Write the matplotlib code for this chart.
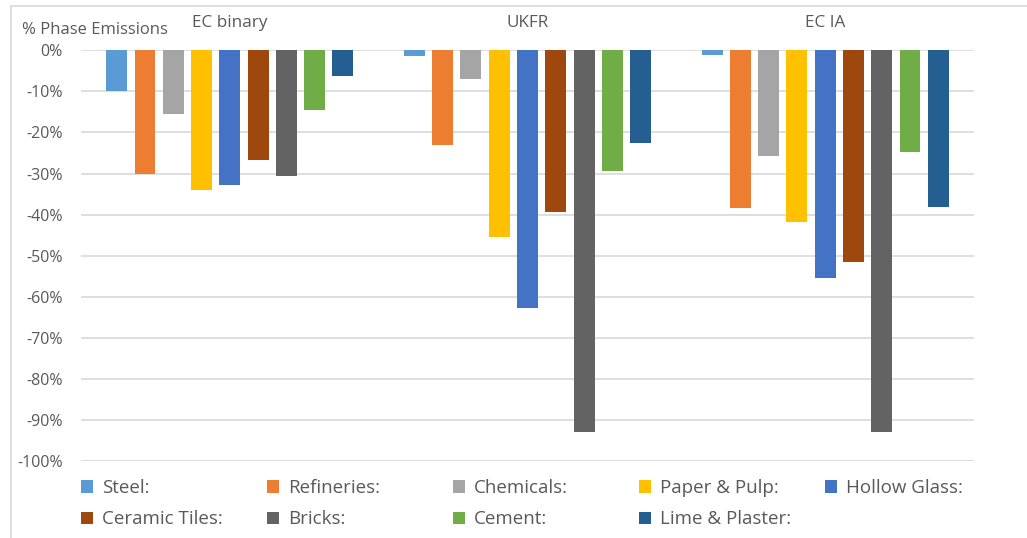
import numpy as np
import matplotlib
matplotlib.use('agg')
import matplotlib.pyplot as plt
from matplotlib.lines import Line2D

plt.rcParams['font.family'] = ['Open Sans', 'DejaVu Sans']

categories = ['EC binary', 'UKFR', 'EC IA']
sectors = ['Steel:', 'Refineries:', 'Chemicals:', 'Paper & Pulp:', 'Hollow Glass:',
           'Ceramic Tiles:', 'Bricks:', 'Cement:', 'Lime & Plaster:']
colors = ['#5B9BD5', '#ED7D31', '#A5A5A5', '#FFC000', '#4472C4',
          '#9E480E', '#636363', '#70AD47', '#255E91']

# % change per sector, one list per scenario
ec_binary = [-10.0, -30.0, -15.6, -34.0, -32.7, -26.6, -30.6, -14.5, -6.2]
ukfr = [-1.3, -23.1, -7.0, -45.4, -62.8, -39.4, -92.9, -29.3, -22.5]
ec_ia = [-1.2, -38.5, -25.7, -41.9, -55.5, -51.6, -92.9, -24.8, -38.1]

yticks = list(range(0, -101, -10))
ytick_labels = ['%d%%' % t for t in yticks]

W, H = 1027, 538
fig = plt.figure(figsize=(W / 100, H / 100), dpi=100)
ax = fig.add_axes([81 / W, 1 - 461 / H, (974 - 81) / W, (461 - 50.3) / H])

vals = np.array([ec_binary, ukfr, ec_ia])
x = np.arange(len(categories))
step = 0.095
width = 0.0705
handles = []
for j, name in enumerate(sectors):
    b = ax.bar(x + (j - 4) * step, vals[:, j], width, color=colors[j], label=name, zorder=3)
    handles.append(b)

ax.set_xlim(-0.5, 2.5)
ax.set_ylim(-100, 0)
ax.set_yticks(yticks)
ax.set_yticklabels(ytick_labels, fontsize=11.5, color='#595959')
ax.yaxis.grid(True, color='#D9D9D9', linewidth=1.2, zorder=0)
ax.tick_params(axis='y', length=0, pad=13)
ax.xaxis.tick_top()
ax.set_xticks(x)
ax.set_xticklabels(categories, fontsize=12.3, color='#595959')
ax.tick_params(axis='x', length=0, pad=14)
for s in ax.spines.values():
    s.set_visible(False)

fig.text(22 / W, 1 - 30 / H, '% Phase Emissions', fontsize=12, color='#595959',
         ha='left', va='center')

# chart area border
fig.add_artist(Line2D([11 / W, 1], [1 - 6 / H, 1 - 6 / H], color='#D9D9D9', lw=1.2))
fig.add_artist(Line2D([11 / W, 11 / W], [0, 1 - 6 / H], color='#D9D9D9', lw=1.2))

# Excel-style legend: 5 equal-width columns, filled row by row
ncol = 5
for c in range(ncol):
    idx = [i for i in range(len(sectors)) if i % ncol == c]
    leg = fig.legend([handles[i] for i in idx], [sectors[i] for i in idx],
                     loc='upper left', bbox_to_anchor=((66 + 186 * c) / W, 1 - 464 / H),
                     frameon=False, fontsize=13.5, handlelength=0.65, handleheight=0.65,
                     handletextpad=0.45, labelspacing=0.72, borderpad=0.3)
    for t in leg.get_texts():
        t.set_color('#595959')

fig.savefig('out.png', dpi=100)
